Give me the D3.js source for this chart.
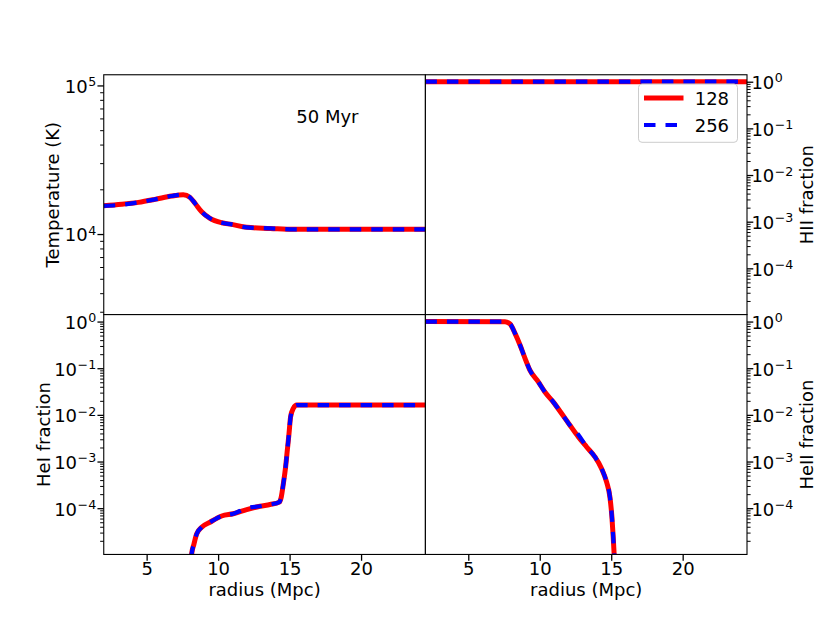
<!DOCTYPE html>
<html>
<head>
<meta charset="utf-8">
<script src="https://cdn.jsdelivr.net/npm/d3@7"></script>
<style>
  html, body { margin: 0; padding: 0; background: #fff; }
  svg text { font-family: "DejaVu Sans", sans-serif; }
</style>
</head>
<body>
<svg id="chart" width="830" height="623"></svg>
<script>
// ---------------- DATA ----------------
const seriesNames = ["128", "256"];
const seriesColors = ["#ff0000", "#0000ff"];
const xTicks = [5, 10, 15, 20];
const annotation = "50 Myr";

// Temperature (K) vs radius (Mpc)
const rTemp   = [2.0, 3.25, 4.42, 5.58, 6.75, 7.56, 8.03, 8.38, 8.85, 9.43, 10.25, 10.95, 12.0, 13.65, 15.3, 24.6];
const temp128 = [15490, 15850, 16330, 17100, 18030, 18410, 17660, 16110, 14130, 12760, 11910, 11610, 11090, 10910, 10760, 10760];
const temp256 = [15490, 15750, 16330, 17100, 18030, 18410, 17660, 16110, 14130, 12760, 11910, 11610, 11090, 10910, 10760, 10760];

// HII fraction
const rHII   = [2.0, 24.6];
const hii128 = [1.0, 1.0];
const hii256 = [1.0, 1.0];

// HeI fraction
const rHeI   = [8.05, 8.15, 8.31, 8.5, 8.85, 9.43, 10.25, 11.06, 12.0, 12.93, 13.63, 14.28, 14.42, 14.56, 14.72, 14.84, 14.96, 15.07, 15.26, 15.5, 24.6];
const heI128 = [3e-6, 1.05e-5, 1.7e-5, 2.8e-5, 3.9e-5, 5.0e-5, 6.8e-5, 7.6e-5, 9.3e-5, 1.10e-4, 1.20e-4, 1.35e-4, 1.75e-4, 3.3e-4, 7.6e-4, 1.74e-3, 3.98e-3, 9.1e-3, 1.38e-2, 1.62e-2, 1.62e-2];
const heI256 = [3e-6, 1.05e-5, 1.7e-5, 2.8e-5, 3.9e-5, 5.0e-5, 6.8e-5, 7.6e-5, 1.0e-4, 1.10e-4, 1.20e-4, 1.35e-4, 1.75e-4, 3.3e-4, 7.6e-4, 1.74e-3, 3.98e-3, 9.1e-3, 1.38e-2, 1.62e-2, 1.62e-2];

// HeII fraction
const rHeII   = [2.0, 7.57, 7.92, 8.27, 8.62, 8.97, 9.31, 9.9, 10.36, 10.94, 11.53, 12.11, 12.69, 13.28, 13.86, 14.33, 14.68, 14.91, 15.05, 15.14, 15.21, 15.28];
const heII128 = [1.0, 0.995, 0.89, 0.56, 0.315, 0.163, 0.091, 0.051, 0.031, 0.019, 0.0107, 0.0060, 0.0034, 0.00205, 1.26e-3, 7.0e-4, 3.6e-4, 1.73e-4, 6.4e-5, 2.4e-5, 9.6e-6, 4e-6];
const heII256 = [1.0, 0.995, 0.89, 0.56, 0.315, 0.163, 0.091, 0.051, 0.031, 0.019, 0.0107, 0.0060, 0.0038, 0.00205, 1.26e-3, 7.0e-4, 3.6e-4, 1.73e-4, 6.4e-5, 2.4e-5, 1.0e-5, 4e-6];

const xDomain = [2.0, 24.5];
const tempDomain = [2870, 118000];
const fracDomain = [1.02e-5, 1.41];

// ---------------- LAYOUT ----------------
const svg = d3.select("#chart");
const L = 103.75, M = 425.4, R = 747, T = 74.76, MID = 314.6, B = 554.45;
const FS = 18, SUP = 12.6;
const MAJ = 6.3, MIN = 3.6;

const panels = [
  { x0: L, x1: M, y0: T, y1: MID, ydom: tempDomain, side: "left", xaxis: false,
    r: [rTemp, rTemp], v: [temp128, temp256], ylabel: "Temperature (K)", ylabX: 59 },
  { x0: M, x1: R, y0: T, y1: MID, ydom: fracDomain, side: "right", xaxis: false,
    r: [rHII, rHII], v: [hii128, hii256], ylabel: "HII fraction", ylabX: 812.5, legend: true },
  { x0: L, x1: M, y0: MID, y1: B, ydom: fracDomain, side: "left", xaxis: true,
    r: [rHeI, rHeI], v: [heI128, heI256], ylabel: "HeI fraction", ylabX: 50.3 },
  { x0: M, x1: R, y0: MID, y1: B, ydom: fracDomain, side: "right", xaxis: true,
    r: [rHeII, rHeII], v: [heII128, heII256], ylabel: "HeII fraction", ylabX: 812.5 }
];

function logTicks(dom) {
  const lo = Math.floor(Math.log10(dom[0])), hi = Math.ceil(Math.log10(dom[1]));
  const major = [], minor = [];
  for (let e = lo; e <= hi; e++) {
    const b = Math.pow(10, e);
    if (b >= dom[0] && b <= dom[1]) major.push(b);
    for (let k = 2; k <= 9; k++) {
      const m = k * b;
      if (m >= dom[0] && m <= dom[1]) minor.push(m);
    }
  }
  return { major, minor };
}

function supLabel(textSel, v) {
  const e = Math.round(Math.log10(v));
  textSel.text(null);
  textSel.append("tspan").text("10");
  textSel.append("tspan").attr("font-size", SUP).attr("dy", -6.6).attr("dx", 0.5)
    .text(e < 0 ? "\u2212" + (-e) : String(e));
}

panels.forEach((p, i) => {
  const x = d3.scaleLinear().domain(xDomain).range([p.x0, p.x1]);
  const y = d3.scaleLog().domain(p.ydom).range([p.y1, p.y0]);
  const g = svg.append("g");

  g.append("rect").attr("x", p.x0).attr("y", p.y0)
    .attr("width", p.x1 - p.x0).attr("height", p.y1 - p.y0).attr("fill", "#fff");

  const clipId = "clip" + i;
  svg.append("clipPath").attr("id", clipId).append("rect")
    .attr("x", p.x0).attr("y", p.y0).attr("width", p.x1 - p.x0).attr("height", p.y1 - p.y0);

  const line = d3.line().x(d => x(d[0])).y(d => y(d[1])).curve(d3.curveMonotoneX);
  const lg = g.append("g").attr("clip-path", `url(#${clipId})`);
  p.v.forEach((vals, s) => {
    const pts = p.r[s].map((rv, j) => [rv, vals[j]]);
    lg.append("path").datum(pts).attr("d", line)
      .attr("fill", "none").attr("stroke", seriesColors[s])
      .attr("stroke-width", s === 0 ? 5 : 4.2)
      .attr("stroke-linejoin", "round")
      .attr("stroke-dasharray", s === 0 ? null : "11.5,10");
  });

  // spines
  g.append("rect").attr("x", p.x0).attr("y", p.y0)
    .attr("width", p.x1 - p.x0).attr("height", p.y1 - p.y0)
    .attr("fill", "none").attr("stroke", "#000").attr("stroke-width", 1.1);

  // y axis
  const lt = logTicks(p.ydom);
  const isLeft = p.side === "left";
  const ax = isLeft ? d3.axisLeft(y) : d3.axisRight(y);
  const axMin = isLeft ? d3.axisLeft(y) : d3.axisRight(y);
  const yg = g.append("g").attr("transform", `translate(${isLeft ? p.x0 : p.x1},0)`);
  yg.call(axMin.tickValues(lt.minor).tickSize(MIN).tickFormat(""));
  yg.selectAll(".domain").remove();
  yg.selectAll(".tick line").attr("stroke-width", 1.0);
  const yg2 = g.append("g").attr("transform", `translate(${isLeft ? p.x0 : p.x1},0)`);
  yg2.call(ax.tickValues(lt.major).tickSize(MAJ).tickPadding(2));
  yg2.selectAll(".domain").remove();
  yg2.selectAll(".tick line").attr("stroke-width", 1.3);
  yg2.selectAll(".tick text")
    .attr("font-size", FS).attr("font-family", "DejaVu Sans").attr("fill", "#000")
    .attr("dy", 6.8).attr("x", isLeft ? -7.6 : 4.4)
    .each(function(d) { supLabel(d3.select(this), d); });

  // x axis
  if (p.xaxis) {
    const xg = g.append("g").attr("transform", `translate(0,${p.y1})`);
    xg.call(d3.axisBottom(x).tickValues(xTicks).tickSize(MAJ).tickPadding(6).tickFormat(d3.format("d")));
    xg.selectAll(".domain").remove();
    xg.selectAll(".tick line").attr("stroke-width", 1.3);
    xg.selectAll(".tick text").attr("font-size", FS).attr("font-family", "DejaVu Sans")
      .attr("fill", "#000").attr("y", 20.6).attr("dy", 0);
    g.append("text").attr("x", (p.x0 + p.x1) / 2).attr("y", 596)
      .attr("text-anchor", "middle").attr("font-size", FS).text("radius (Mpc)");
  }

  // y label
  g.append("text")
    .attr("transform", `translate(${p.ylabX},${(p.y0 + p.y1) / 2}) rotate(-90)`)
    .attr("text-anchor", "middle").attr("font-size", FS).text(p.ylabel);

  if (i === 0) {
    g.append("text").attr("x", 296.3).attr("y", 122.7).attr("font-size", FS).text(annotation);
  }

  if (p.legend) {
    const lgd = g.append("g");
    lgd.append("rect").attr("x", 638.5).attr("y", 84).attr("width", 99).attr("height", 58.3)
      .attr("rx", 3.5).attr("fill", "#fff").attr("fill-opacity", 0.8)
      .attr("stroke", "#cccccc").attr("stroke-width", 1);
    seriesNames.forEach((nm, s) => {
      const yy = 98 + s * 27;
      lgd.append("line").attr("x1", 644).attr("x2", 683.5).attr("y1", yy).attr("y2", yy)
        .attr("stroke", seriesColors[s]).attr("stroke-width", s === 0 ? 5 : 4.2)
        .attr("stroke-dasharray", s === 0 ? null : "11.5,10");
      lgd.append("text").attr("x", 694.7).attr("y", yy + 6.6).attr("font-size", FS).text(nm);
    });
  }
});
</script>
</body>
</html>
